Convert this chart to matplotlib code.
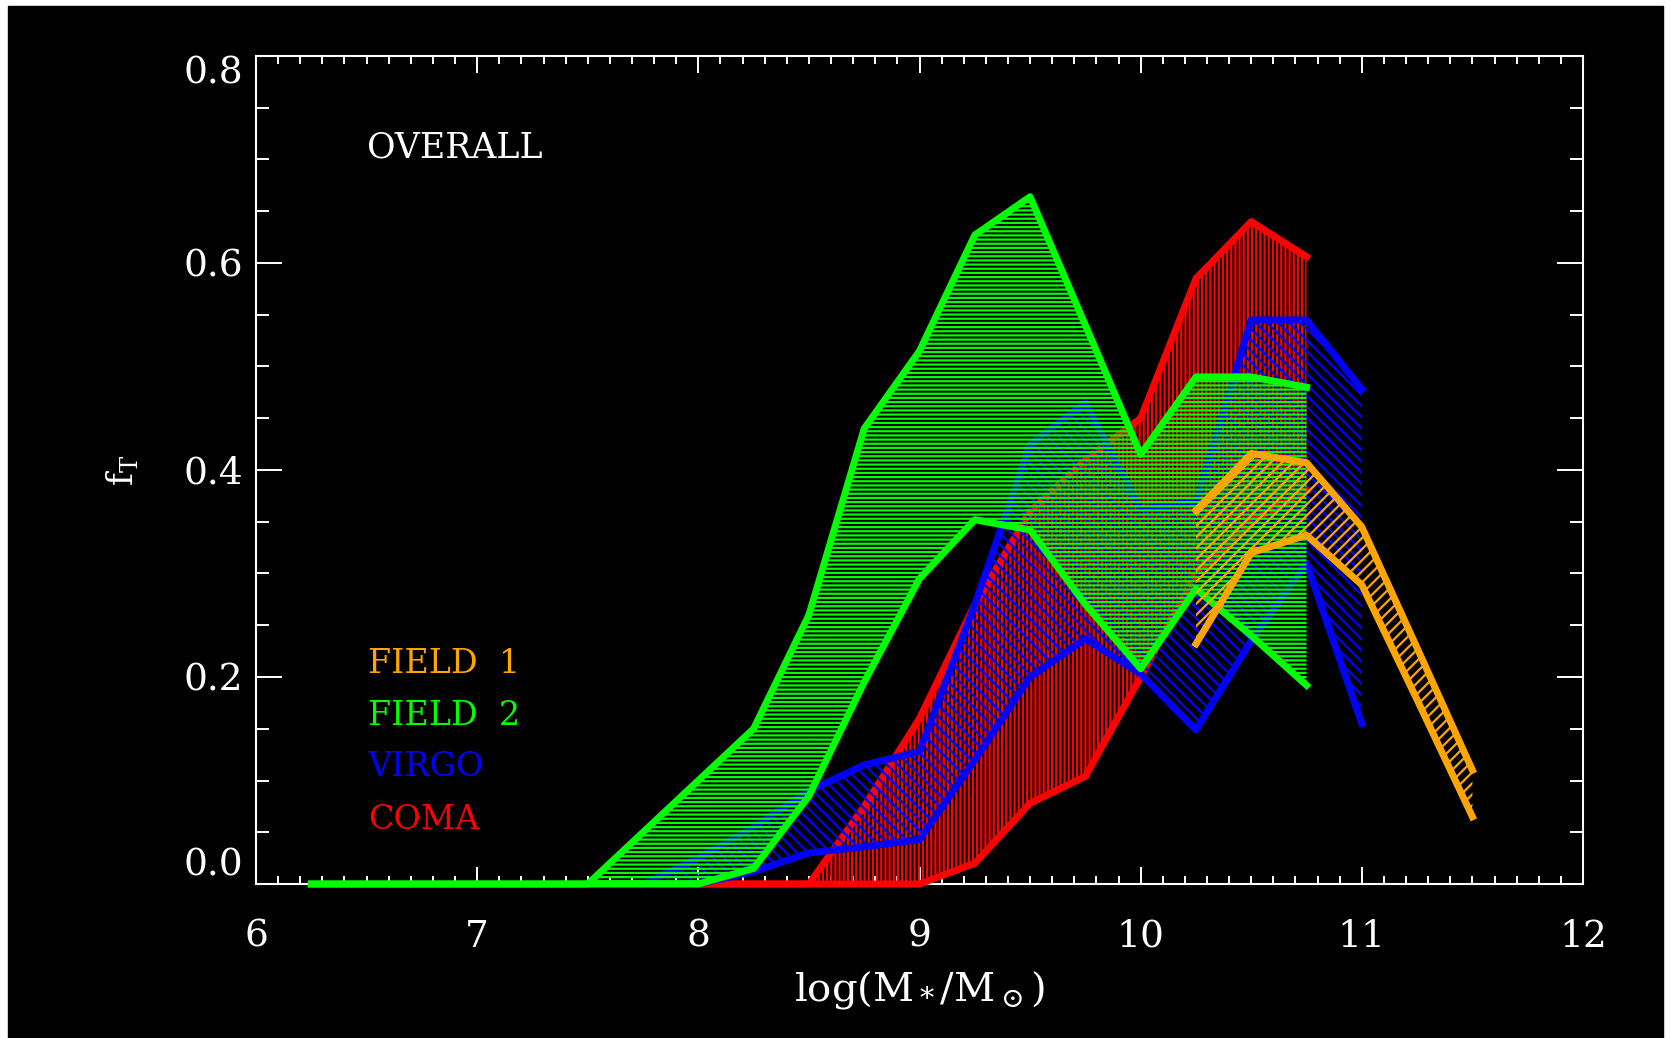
import matplotlib
matplotlib.use("Agg")
import matplotlib.pyplot as plt
from matplotlib.patches import Rectangle
from matplotlib.ticker import MultipleLocator

# Red fraction f_T versus stellar mass, shaded between lower and upper limits
green_x = [6.25, 6.5, 6.75, 7.0, 7.25, 7.5, 7.75, 8.0, 8.25, 8.5, 8.75, 9.0, 9.25, 9.5, 9.75, 10.0, 10.25, 10.5, 10.75]
green_hi = [0, 0, 0, 0, 0, 0, 0.05, 0.10, 0.15, 0.26, 0.44, 0.515, 0.627, 0.664, 0.54, 0.415, 0.49, 0.49, 0.48]
green_lo = [0, 0, 0, 0, 0, 0, 0, 0, 0.015, 0.085, 0.195, 0.295, 0.352, 0.342, 0.27, 0.208, 0.285, 0.24, 0.192]

blue_x = [7.75, 8.0, 8.25, 8.5, 8.75, 9.0, 9.25, 9.5, 9.75, 10.0, 10.25, 10.5, 10.75, 11.0]
blue_hi = [0.0, 0.025, 0.055, 0.09, 0.115, 0.128, 0.27, 0.425, 0.465, 0.362, 0.37, 0.545, 0.545, 0.478]
blue_lo = [0.0, 0.0, 0.012, 0.03, 0.036, 0.043, 0.12, 0.2, 0.237, 0.203, 0.149, 0.235, 0.31, 0.155]

red_x = [8.0, 8.25, 8.5, 8.75, 9.0, 9.25, 9.5, 9.75, 10.0, 10.25, 10.5, 10.75]
red_hi = [0.0, 0.0, 0.0, 0.075, 0.16, 0.27, 0.36, 0.41, 0.45, 0.585, 0.64, 0.606]
red_lo = [0.0, 0.0, 0.0, 0.0, 0.0, 0.02, 0.078, 0.104, 0.2, 0.3, 0.35, 0.38]

orange_x = [10.25, 10.5, 10.75, 11.0, 11.25, 11.5]
orange_hi = [0.361, 0.416, 0.407, 0.345, 0.228, 0.11]
orange_lo = [0.232, 0.32, 0.337, 0.289, 0.178, 0.065]

names = ["FIELD  1", "FIELD  2", "VIRGO", "COMA"]
name_colors = ["#FFA500", "#00FF00", "#0000FF", "#FF0000"]
name_y = [0.2125, 0.162, 0.113, 0.062]

x_ticks = [6, 7, 8, 9, 10, 11, 12]
x_labels = ["6", "7", "8", "9", "10", "11", "12"]
y_ticks = [0.0, 0.2, 0.4, 0.6, 0.8]
y_labels = ["0.0", "0.2", "0.4", "0.6", "0.8"]

plt.rcParams["font.family"] = "DejaVu Serif"
plt.rcParams["mathtext.fontset"] = "dejavuserif"
plt.rcParams["hatch.linewidth"] = 1.6

W, H = 1671, 1038
fig = plt.figure(figsize=(W / 100, H / 100), dpi=100, facecolor="white")
fig.add_artist(Rectangle((8 / W, 0), (1663 - 8) / W, 1 - 6 / H,
                         transform=fig.transFigure, color="black", zorder=-10))

ax = fig.add_axes([256 / W, 1 - 884 / H, 1327 / W, 828 / H])
ax.set_facecolor("black")


def band(x, lo, hi, color, hatch, z):
    # hatched area first, then its two limit curves, all on one layer
    ax.fill_between(x, lo, hi, facecolor="none", edgecolor=color,
                    linewidth=0, hatch=hatch, zorder=z)
    ax.plot(x, hi, color=color, lw=5, clip_on=False, zorder=z + 0.5)
    ax.plot(x, lo, color=color, lw=5, clip_on=False, zorder=z + 0.5)


# drawing order: COMA, VIRGO, FIELD 2, FIELD 1
band(red_x, red_lo, red_hi, "#FF0000", "||||", 3)
band(blue_x, blue_lo, blue_hi, "#0000FF", "\\\\\\", 4)
band(green_x, green_lo, green_hi, "#00FF00", "----", 5)
band(orange_x, orange_lo, orange_hi, "#FFA500", "///", 6)

ax.text(6.5, 0.712, "OVERALL", color="white", fontsize=25, va="center", ha="left")
for name, c, y in zip(names, name_colors, name_y):
    ax.text(6.505, y, name, color=c, fontsize=24, va="center", ha="left")

ax.set_xlim(6, 12)
ax.set_ylim(0, 0.8)
ax.set_xticks(x_ticks, x_labels)
ax.set_yticks(y_ticks, y_labels)
ax.xaxis.set_minor_locator(MultipleLocator(0.1))
ax.yaxis.set_minor_locator(MultipleLocator(0.05))

for s in ax.spines.values():
    s.set_color("white")
    s.set_linewidth(1.5)

ax.tick_params(axis="both", which="both", direction="in", colors="white",
               top=True, right=True, width=1.4, labelsize=27)
ax.tick_params(axis="x", which="major", length=12, pad=25)
ax.tick_params(axis="x", which="minor", length=6)
ax.tick_params(axis="y", which="major", length=19, pad=9)
ax.tick_params(axis="y", which="minor", length=9.5)

ylabs = ax.get_yticklabels()
ylabs[0].set_va("bottom")
ylabs[-1].set_va("top")

ax.set_xlabel(r"$\mathrm{log(M_*/M_\odot)}$", color="white", fontsize=29)
ax.xaxis.set_label_coords(0.5, -0.103)
ax.set_ylabel(r"$\mathrm{f_T}$", color="white", fontsize=25)
ax.yaxis.set_label_coords(-0.087, 0.5)

fig.savefig("out.png", dpi=100, facecolor=fig.get_facecolor())
